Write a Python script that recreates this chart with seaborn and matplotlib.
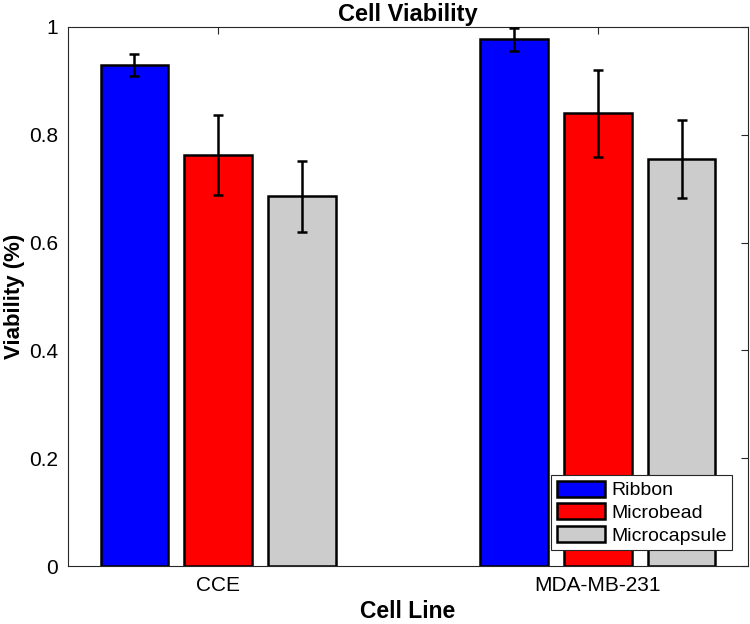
import numpy as np
import pandas as pd
import seaborn as sns
import matplotlib.pyplot as plt

# values
cell_lines = ['CCE', 'MDA-MB-231']
methods = ['Ribbon', 'Microbead', 'Microcapsule']
ribbon = [0.930, 0.977]
microbead = [0.763, 0.840]
microcapsule = [0.686, 0.755]
ribbon_err = [0.020, 0.021]
microbead_err = [0.074, 0.081]
microcapsule_err = [0.066, 0.073]
colors = ['#0000FF', '#FF0000', '#CCCCCC']

df = pd.DataFrame({
    'Cell Line': cell_lines * 3,
    'method': np.repeat(methods, 2),
    'viability': ribbon + microbead + microcapsule,
    'err': ribbon_err + microbead_err + microcapsule_err,
})

sns.set_style('white')
plt.rcParams['font.family'] = ['Liberation Sans', 'DejaVu Sans']
plt.rcParams['text.color'] = 'black'
plt.rcParams['axes.labelcolor'] = 'black'
plt.rcParams['xtick.color'] = 'black'
plt.rcParams['ytick.color'] = 'black'

fig = plt.figure(figsize=(7.5, 6.24), dpi=100)
ax = fig.add_axes([68/750, 58/624, 680/750, 539/624])

sns.barplot(data=df, x='Cell Line', y='viability', hue='method',
            order=cell_lines, hue_order=methods, palette=colors,
            width=0.663, gap=0.2, errorbar=None,
            edgecolor='black', linewidth=1.8, saturation=1, ax=ax)

# error bars on top of each bar (patch order is hue-major)
for patch, (_, row) in zip(ax.patches, df.iterrows()):
    xc = patch.get_x() + patch.get_width() / 2
    ax.errorbar(xc, row['viability'], yerr=row['err'], color='black',
                lw=1.8, capsize=3.5, capthick=1.8, zorder=5)

ax.set_xlim(-0.395, 1.395)
ax.set_ylim(0, 1)
ax.set_yticks([0, 0.2, 0.4, 0.6, 0.8, 1])
ax.set_yticklabels(['0', '0.2', '0.4', '0.6', '0.8', '1'])
ax.tick_params(direction='in', length=5, width=0.8, color='#262626',
               labelcolor='black', labelsize=15, top=True, right=True, pad=7)
for s in ax.spines.values():
    s.set_visible(True)
    s.set_color('#262626')
    s.set_linewidth(0.8)

ax.set_title('Cell Viability', fontsize=17, fontweight='bold', pad=4)
ax.set_xlabel('Cell Line', fontsize=16.5, fontweight='bold', labelpad=4)
ax.set_ylabel('Viability (%)', fontsize=16, fontweight='bold', labelpad=3)

leg = ax.legend(loc='lower right', fontsize=14, frameon=True, fancybox=False,
                framealpha=1, edgecolor='#262626', handlelength=2.5,
                handleheight=0.9, handletextpad=0.3, borderpad=0.3,
                labelspacing=0.2, borderaxespad=0.8, title=None)
leg.get_frame().set_linewidth(0.8)

fig.savefig('out.png', dpi=100)
